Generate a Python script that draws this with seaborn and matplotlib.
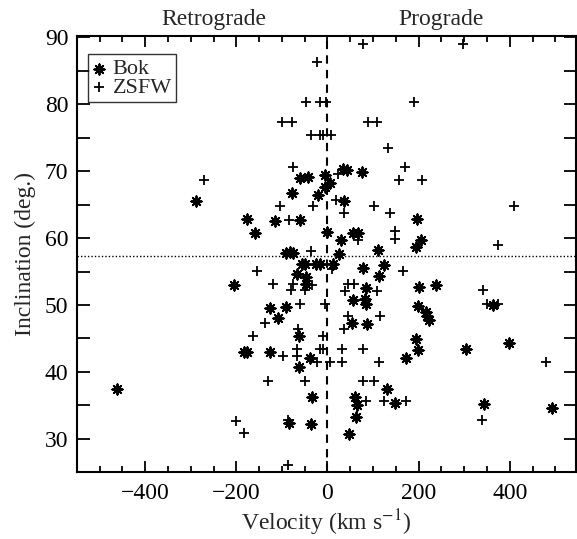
import numpy as np
import pandas as pd
import matplotlib
matplotlib.use("Agg")
import matplotlib.pyplot as plt
from matplotlib.ticker import MultipleLocator
import seaborn as sns

# Bok sample (asterisks)
bok_vel = [-60, -42, -5, 5, -5, -20, 33, 42, 76, -78, 37, 196, -177, -116, -60, -158, -2, 30, 56, 67,
           206, 195, -288, -90, -83, -76, -56, -49, -25, -16, 12, 26, 110, 78, 124, 113, 201, 238, 199,
           215, 219, 222, -67, -47, -47, -205, -126, -91, -108, -62, 84, 55, 82, 84, 53, 86, 195, 199,
           -184, -177, -127, -38, -62, -33, 173, 131, 60, 65, 149, 63, 48, -85, -36, -462, 303, 398,
           343, 493, 363]
bok_inc = [69.0, 69.1, 69.5, 68.3, 67.7, 66.5, 70.3, 70.2, 69.9, 66.7, 65.6, 62.9, 62.9, 62.6, 62.7,
           60.8, 60.9, 59.7, 60.8, 60.8, 59.7, 58.6, 65.6, 57.7, 57.9, 57.7, 56.1, 56.1, 56.2, 56.2,
           56.1, 57.6, 58.2, 55.5, 56.0, 54.4, 52.7, 53.0, 49.9, 49.0, 48.3, 47.7, 54.6, 54.2, 53.1,
           53.0, 49.5, 49.7, 48.0, 45.3, 52.5, 50.7, 50.9, 50.2, 47.3, 47.2, 44.9, 43.2, 42.9, 42.9,
           42.9, 42.0, 40.7, 36.2, 42.1, 37.4, 36.2, 35.1, 35.3, 33.2, 30.7, 32.3, 32.2, 37.5, 43.4,
           44.3, 35.2, 34.6, 50.0]

# ZSFW sample (plus signs)
zsfw_vel = [-22, -47, -16, -3, -100, -78, -37, -16, -10, 8, -75, -271, 78, 297, 189, 89, 109, 133, 170,
            157, 208, 23, -104, -31, 19, 36, 102, 137, -84, 67, 148, 147, -37, -155, -119, -81, -49,
            -33, -75, 58, 45, 38, 108, 166, 9, -60, -5, -137, -164, -64, -10, 45, 115, 37, -98, -67,
            -67, -16, -9, -24, 6, 31, 113, 31, 77, -131, -49, 77, 102, 84, 124, 172, -200, -184, -86,
            -86, 409, 374, 341, 349, 373, 480, 338]
zsfw_inc = [86.3, 80.3, 80.3, 80.3, 77.4, 77.4, 75.4, 75.4, 75.4, 75.4, 70.7, 68.7, 89.0, 89.0, 80.3,
            77.4, 77.4, 73.5, 70.6, 68.7, 68.7, 69.6, 64.8, 64.8, 65.7, 63.8, 64.8, 63.8, 62.7, 59.7,
            61.0, 59.8, 58.0, 55.1, 53.1, 52.2, 52.2, 53.0, 53.1, 53.1, 53.1, 52.1, 52.1, 55.1, 55.4,
            50.2, 50.2, 47.3, 45.3, 46.4, 45.3, 48.3, 48.3, 46.4, 42.4, 42.4, 43.4, 43.4, 43.4, 41.4,
            41.4, 41.4, 41.4, 43.4, 43.4, 38.6, 38.6, 38.6, 38.6, 35.7, 35.7, 35.7, 32.7, 30.8, 32.8,
            26.0, 64.8, 59.0, 52.2, 50.1, 50.1, 41.4, 32.8]

ref_inclination = 57.3
side_labels = ["Retrograde", "Prograde"]
side_label_x = [-250, 250]

sns.set_style("ticks")
plt.rcParams["font.family"] = ["Liberation Serif", "DejaVu Serif"]
plt.rcParams["mathtext.fontset"] = "stix"
plt.rcParams["axes.unicode_minus"] = True

df_bok = pd.DataFrame({"vel": bok_vel, "inc": bok_inc})
df_z = pd.DataFrame({"vel": zsfw_vel, "inc": zsfw_inc})

fig = plt.figure(figsize=(5.77, 5.39), dpi=100)
ax = fig.add_axes([0.133, 0.124, 0.866, 0.809])

sns.scatterplot(data=df_bok, x="vel", y="inc", marker=(8, 2, 0), s=55, color="black",
                linewidth=1.4, ax=ax, label="Bok")
sns.scatterplot(data=df_z, x="vel", y="inc", marker="+", s=55, color="black",
                linewidth=1.3, ax=ax, label="ZSFW")

ax.axvline(0, color="black", linestyle=(0, (4, 3)), linewidth=1.5)
ax.axhline(ref_inclination, color="black", linestyle=(0, (1, 1.5)), linewidth=1.0)

ax.set_xlim(-550, 546)
ax.set_ylim(25, 90.2)
ax.xaxis.set_major_locator(MultipleLocator(200))
ax.xaxis.set_minor_locator(MultipleLocator(50))
ax.yaxis.set_major_locator(MultipleLocator(10))
ax.yaxis.set_minor_locator(MultipleLocator(5))

ax.tick_params(axis="both", which="both", direction="in", top=True, right=True,
               width=1.3, labelsize=17, colors="black")
ax.tick_params(axis="x", which="major", length=8, pad=8)
ax.tick_params(axis="x", which="minor", length=4)
ax.tick_params(axis="y", which="major", length=9, pad=6)
ax.tick_params(axis="y", which="minor", length=9)
for sp in ax.spines.values():
    sp.set_linewidth(1.5)
    sp.set_color("black")

ax.set_xlabel("Velocity (km s$^{-1}$)", fontsize=17, labelpad=2)
ax.set_ylabel("Inclination (deg.)", fontsize=17, labelpad=6)

for lab, xv in zip(side_labels, side_label_x):
    ax.text(xv, 1.015, lab, transform=ax.get_xaxis_transform(), ha="center", va="bottom",
            fontsize=17)

leg = ax.legend(loc="upper left", bbox_to_anchor=(0.023, 0.958), borderaxespad=0,
                fontsize=16, frameon=True, fancybox=False, edgecolor="black",
                handlelength=0.6, handletextpad=0.3, labelspacing=-0.1,
                borderpad=0.2, markerscale=1.0)
leg.get_frame().set_linewidth(1.0)

fig.savefig("out.png", dpi=100)
